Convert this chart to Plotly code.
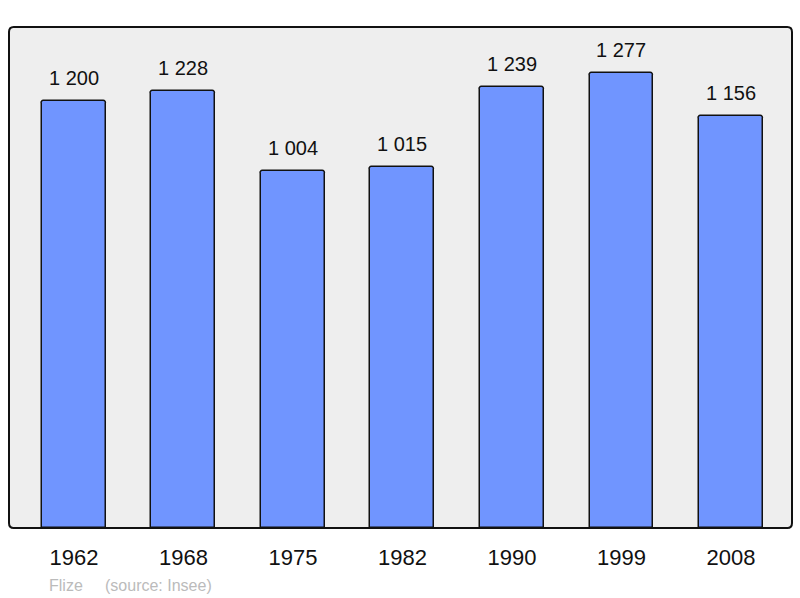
import plotly.graph_objects as go

years = ["1962", "1968", "1975", "1982", "1990", "1999", "2008"]
population = [1200, 1228, 1004, 1015, 1239, 1277, 1156]
value_labels = ["1 200", "1 228", "1 004", "1 015", "1 239", "1 277", "1 156"]

positions = list(range(len(years)))

fig = go.Figure()
fig.add_trace(go.Bar(
    x=positions, y=population, width=0.584,
    marker=dict(color="#7095FF", line=dict(color="#111111", width=1.5), cornerradius=3),
    hoverinfo="skip",
))

for p, v, t in zip(positions, population, value_labels):
    fig.add_annotation(x=p, y=v, text=t, showarrow=False, yanchor="bottom", yshift=10,
                       font=dict(family="Liberation Sans, Arial, sans-serif", size=20, color="#111111"))

fig.add_annotation(xref="paper", yref="paper", x=0.0485, y=-0.114, xanchor="left", yanchor="middle",
                   text="Flize&nbsp;&nbsp;&nbsp;&nbsp;&nbsp;(source: Insee)", showarrow=False,
                   font=dict(family="Liberation Sans, Arial, sans-serif", size=16, color="#BBBBBB"))

fig.add_shape(type="path", xref="paper", yref="paper",
              path="M 0.006 0 L 0.994 0 Q 1 0 1 0.01 L 1 0.99 Q 1 1 0.994 1 L 0.006 1 Q 0 1 0 0.99 L 0 0.01 Q 0 0 0.006 0 Z",
              line=dict(color="#111111", width=2), layer="above")

fig.update_layout(
    width=800, height=598,
    margin=dict(l=9, r=8, t=27, b=70),
    paper_bgcolor="white", plot_bgcolor="#EEEEEE",
    showlegend=False,
    bargap=0,
    xaxis=dict(range=[-0.593, 6.557], tickvals=positions, ticktext=years, showgrid=False,
               zeroline=False, showline=False, ticks="", ticklabelstandoff=14,
               tickfont=dict(family="Liberation Sans, Arial, sans-serif", size=22, color="#111111")),
    yaxis=dict(range=[0, 1407], showgrid=False, zeroline=False, showticklabels=False, showline=False),
)

fig.write_html("out.html", config={"displayModeBar": False},
               post_script="document.body.style.margin='0';document.body.style.overflow='hidden';")
